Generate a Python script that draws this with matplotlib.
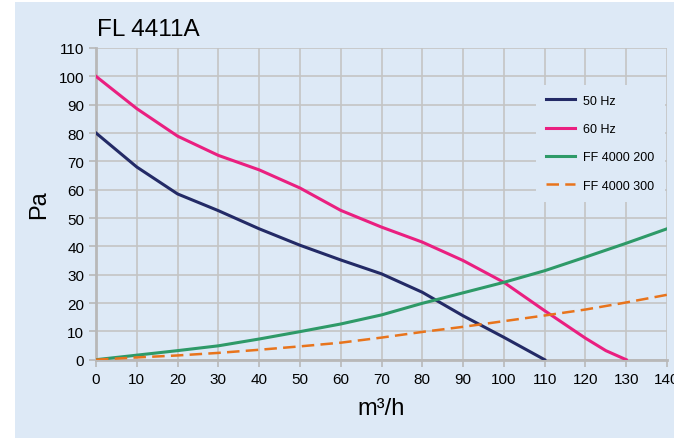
import matplotlib.pyplot as plt
from matplotlib.patches import Rectangle

plt.rcParams['font.family'] = ['Liberation Sans', 'DejaVu Sans']

# data
flow = [0, 10, 20, 30, 40, 50, 60, 70, 80, 90, 100, 110, 120, 130, 140]
hz50_x = [0, 10, 20, 30, 40, 50, 60, 70, 80, 90, 100, 110]
hz50_y = [80, 68, 58.5, 52.6, 46.2, 40.4, 35.2, 30.3, 23.8, 15.5, 7.9, 0]
hz60_x = [0, 10, 20, 30, 40, 50, 60, 70, 80, 90, 100, 110, 120, 125, 130]
hz60_y = [100, 88.6, 78.9, 72.1, 67, 60.6, 52.7, 46.8, 41.5, 35, 27.3, 17.3, 7.6, 3.2, 0]
ff200_y = [0, 1.6, 3.2, 4.9, 7.3, 9.9, 12.6, 15.8, 19.9, 23.6, 27.3, 31.4, 36.2, 41.1, 46.2]
ff300_y = [0, 0.8, 1.5, 2.4, 3.5, 4.7, 6.0, 7.8, 9.8, 11.6, 13.6, 15.6, 17.7, 20.2, 22.9]

bg = '#dde9f6'
grid_c = '#c4c4c4'

fig = plt.figure(figsize=(6.74, 4.39), dpi=100)
fig.patches.append(Rectangle((15 / 674, 0), 1, 1 - 3 / 439, transform=fig.transFigure,
                             facecolor=bg, edgecolor='none', zorder=-10))

ax = fig.add_axes([96 / 674, (439 - 360.7) / 439, 571 / 674, 311.7 / 439])
ax.set_facecolor('none')

ax.plot(hz50_x, hz50_y, color='#232a66', lw=2.2, label='50 Hz', zorder=3)
ax.plot(hz60_x, hz60_y, color='#ea1f80', lw=2.2, label='60 Hz', zorder=3)
ax.plot(flow, ff200_y, color='#2e9a68', lw=2.2, label='FF 4000 200', zorder=3)
ax.plot(flow, ff300_y, color='#e8741c', lw=1.8, dashes=(5, 2.5),
        label='FF 4000 300', zorder=3)

ax.set_xlim(0, 140)
ax.set_ylim(0, 110)
ax.set_xticks(range(0, 141, 10))
ax.set_yticks(range(0, 111, 10))
ax.grid(True, color=grid_c, lw=1.2)
ax.set_axisbelow(True)
for s in ['top', 'right']:
    ax.spines[s].set_visible(False)
for s in ['left', 'bottom']:
    ax.spines[s].set_color('#b8b8b8')
    ax.spines[s].set_linewidth(2)
ax.tick_params(colors='#b8b8b8', labelcolor='black', labelsize=11, length=5, width=1.2)

ax.set_xlabel('m³/h', fontsize=17, labelpad=8)
ax.set_ylabel('Pa', fontsize=17, labelpad=6)
fig.text(97 / 674, 1 - 30 / 439, 'FL 4411A', fontsize=17.5, va='center', ha='left')

leg = ax.legend(loc='upper right', bbox_to_anchor=(1.007, 0.902), fontsize=9,
                frameon=True, facecolor=bg, edgecolor='none', framealpha=1,
                handlelength=2.3, handletextpad=0.7, labelspacing=1.3,
                borderpad=0.8, fancybox=False)

fig.savefig('out.png', dpi=100, facecolor='white')
